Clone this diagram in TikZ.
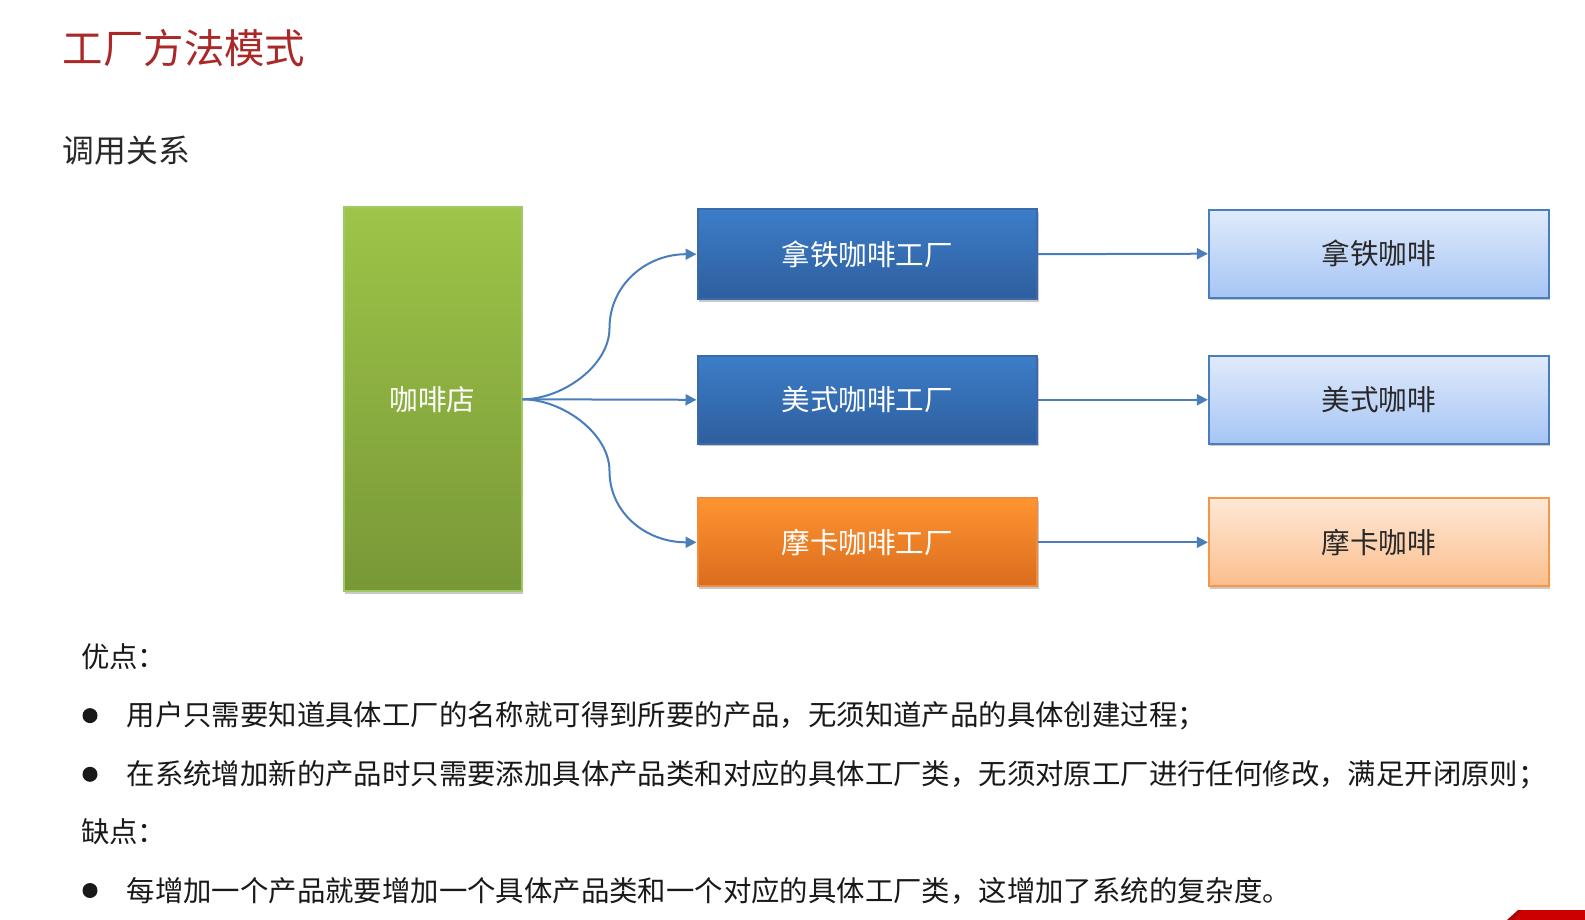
\documentclass[tikz,border=0pt]{standalone}
\usepackage{fontspec}
\setmainfont{Noto Sans CJK SC}
\usetikzlibrary{arrows.meta,shadows}
\definecolor{titlered}{RGB}{170,40,40}
\definecolor{greentop}{RGB}{158,196,72}
\definecolor{greenbot}{RGB}{120,152,55}
\definecolor{greenline}{RGB}{160,200,100}
\definecolor{bluetop}{RGB}{60,125,200}
\definecolor{bluebot}{RGB}{46,94,158}
\definecolor{blueline}{RGB}{60,105,170}
\definecolor{orangetop}{RGB}{255,148,48}
\definecolor{orangebot}{RGB}{218,108,30}
\definecolor{orangeline}{RGB}{240,140,60}
\definecolor{ltbluetop}{RGB}{224,234,251}
\definecolor{ltbluebot}{RGB}{166,197,245}
\definecolor{ltblueline}{RGB}{74,126,187}
\definecolor{ltorangetop}{RGB}{254,232,214}
\definecolor{ltorangebot}{RGB}{251,190,140}
\definecolor{ltorangeline}{RGB}{247,150,70}
\definecolor{arrowblue}{RGB}{74,126,187}
\definecolor{textgray}{RGB}{40,40,40}
\tikzset{
  boxbase/.style={rectangle, inner sep=0pt, line width=2pt,
    drop shadow={shadow xshift=1.5pt, shadow yshift=-2.5pt, opacity=0.35, fill=black!60}},
  shopbox/.style={boxbase, draw=greenline, top color=greentop, bottom color=greenbot,
    minimum width=177.9pt, minimum height=384.1pt, font=\fontsize{28.6}{30}\selectfont, text=white},
  factbox/.style={boxbase, draw=blueline, top color=bluetop, bottom color=bluebot,
    minimum width=339.6pt, minimum height=88pt, font=\fontsize{28.6}{30}\selectfont, text=white},
  mochafact/.style={boxbase, draw=orangeline, top color=orangetop, bottom color=orangebot,
    minimum width=339.6pt, minimum height=88pt, font=\fontsize{28.6}{30}\selectfont, text=white},
  prodbox/.style={boxbase, draw=ltblueline, top color=ltbluetop, bottom color=ltbluebot,
    minimum width=339.6pt, minimum height=88pt, font=\fontsize{28.6}{30}\selectfont, text=textgray},
  mochaprod/.style={boxbase, draw=ltorangeline, top color=ltorangetop, bottom color=ltorangebot,
    minimum width=339.6pt, minimum height=88pt, font=\fontsize{28.6}{30}\selectfont, text=textgray},
  link/.style={draw=arrowblue, line width=2pt, -{Triangle[length=11pt,width=11pt]}},
  bodytext/.style={anchor=west, inner sep=0pt, font=\fontsize{28.4}{30}\selectfont, text=black!90},
  bulletdot/.style={circle, fill=black!90, inner sep=0pt, minimum size=15pt}
}
\begin{document}
\begin{tikzpicture}[x=1pt, y=-1pt]
\useasboundingbox (0,0) rectangle (1585,920);
\fill[white] (0,0) rectangle (1585,920);

% titles
\node[anchor=west, inner sep=0pt, font=\fontsize{40.4}{42}\selectfont, text=titlered] (title) at (62.7,48.5) {工厂方法模式};
\node[anchor=west, inner sep=0pt, font=\fontsize{31.8}{34}\selectfont, text=textgray] (sub) at (62.7,150.6) {调用关系};

% boxes
\node[shopbox] (shop) at (432.6,399.3) {咖啡店};
\node[factbox, minimum height=90pt] (latteF) at (867.3,254.2) {拿铁咖啡工厂};
\node[factbox] (americanoF) at (867.3,399.8) {美式咖啡工厂};
\node[mochafact] (mochaF) at (867.3,542.3) {摩卡咖啡工厂};
\node[prodbox] (latte) at (1378.7,253.7) {拿铁咖啡};
\node[prodbox] (americano) at (1378.7,399.8) {美式咖啡};
\node[mochaprod] (mocha) at (1378.7,542.3) {摩卡咖啡};

% connectors
\coordinate (mtop) at (609.5,328);
\coordinate (mbot) at (609.5,471);
\draw[link] (shop.east) .. controls (562,399.3) and (609.5,366) .. (mtop)
   .. controls (609.5,286) and (645,254.2) .. (latteF.west);
\draw[link] (shop.east) -- (americanoF.west);
\draw[link] (shop.east) .. controls (562,399.3) and (609.5,433) .. (mbot)
   .. controls (609.5,512) and (645,542.3) .. (mochaF.west);
\draw[link] (latteF.east) -- (latte.west);
\draw[link] (americanoF.east) -- (americano.west);
\draw[link] (mochaF.east) -- (mocha.west);

% text
\node[bodytext] (pros) at (80.9,657) {优点：};
\node[bulletdot] (b1) at (90,715.6) {};
\node[bodytext] (p1) at (126.4,715.6) {用户只需要知道具体工厂的名称就可得到所要的产品，无须知道产品的具体创建过程；};
\node[bulletdot] (b2) at (90,774.3) {};
\node[bodytext] (p2) at (126.4,774.3) {在系统增加新的产品时只需要添加具体产品类和对应的具体工厂类，无须对原工厂进行任何修改，满足开闭原则；};
\node[bodytext] (cons) at (80.9,831.9) {缺点：};
\node[bulletdot] (b3) at (90,890.5) {};
\node[bodytext] (c1) at (126.4,890.5) {每增加一个产品就要增加一个具体产品类和一个对应的具体工厂类，这增加了系统的复杂度。};

% corner decoration
\fill[red!70!black] (1507,920) -- (1518,910) -- (1585,910) -- (1585,920) -- cycle;
\fill[red!80!black] (1522,910) -- (1585,910) -- (1585,920) -- (1515,920) -- cycle;
\end{tikzpicture}
\end{document}
